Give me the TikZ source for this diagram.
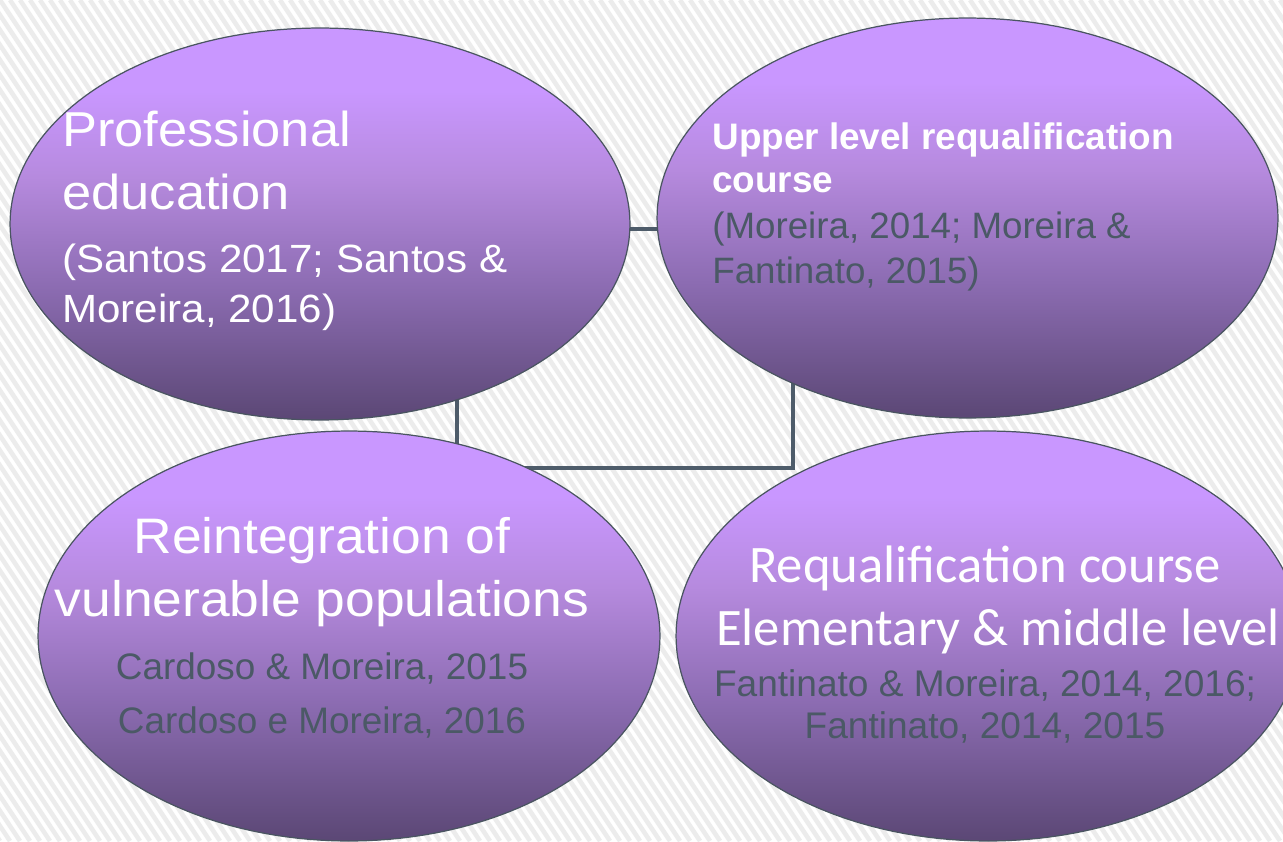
\documentclass[tikz,border=0pt]{standalone}
\usepackage{fontspec}
\setmainfont{Liberation Sans}
\newfontfamily\widesans[FakeStretch=1.07]{Liberation Sans}
\newfontfamily\calibri{Carlito}
\usetikzlibrary{shapes.geometric,calc,backgrounds}

\definecolor{lilaclight}{HTML}{C997FF}
\definecolor{lilacup}{HTML}{B68ADE}
\definecolor{lilacmid}{HTML}{8C6CB2}
\definecolor{lilacdark}{HTML}{5B4775}
\definecolor{rimgray}{HTML}{4A5561}
\definecolor{slate}{HTML}{4E5C6A}
\definecolor{citegray}{HTML}{4B5966}
\definecolor{stripegray}{HTML}{ECECEC}

\pgfdeclareverticalshading{lilac}{100bp}{color(0bp)=(lilacdark); color(25bp)=(lilacdark);
  color(42bp)=(lilacmid); color(56bp)=(lilacup); color(67bp)=(lilaclight);
  color(75bp)=(lilaclight); color(100bp)=(lilaclight)}

\newcommand{\fs}[1]{\fontsize{#1}{1.2\dimexpr#1\relax}\selectfont}

\tikzset{
  topic/.style={ellipse, draw=rimgray, line width=0.7pt, shading=lilac, inner sep=0pt},
  link/.style={draw=slate, line width=2.3pt},
  head/.style={text=white, inner sep=0pt},
  cite/.style={text=citegray, inner sep=0pt},
}

\begin{document}
\begin{tikzpicture}[x=0.02cm, y=-0.02cm]
  \useasboundingbox (0,0) rectangle (1283,841);

  % the four topics
  \node[topic, minimum width=12.4cm, minimum height=7.84cm] (prof) at (320,224) {};
  \node[topic, minimum width=12.42cm, minimum height=8cm] (upper) at (967.5,218) {};
  \node[topic, minimum width=12.44cm, minimum height=8.2cm] (reint) at (349,636) {};
  \node[topic, minimum width=12.48cm, minimum height=8.2cm] (requal) at (988,636) {};

  % professional education
  \node[head, anchor=base west, font=\widesans\fs{27.9pt}] (prof1) at (62,147) {Professional};
  \node[head, anchor=base west, font=\widesans\fs{27.9pt}] (prof2) at (62,210) {education};
  \node[head, anchor=base west, font=\widesans\fs{22.4pt}] (prof3) at (62,272) {(Santos 2017; Santos \&};
  \node[head, anchor=base west, font=\widesans\fs{22.4pt}] (prof4) at (62,322) {Moreira, 2016)};

  % upper level course
  \node[head, anchor=base west, font=\bfseries\fs{21pt}] (upper1) at (712,150) {Upper level requalification};
  \node[head, anchor=base west, font=\bfseries\fs{21pt}] (upper2) at (712,193) {course};
  \node[cite, anchor=base west, font=\fs{20.9pt}] (upper3) at (712,238) {(Moreira, 2014; Moreira \&};
  \node[cite, anchor=base west, font=\fs{20.9pt}] (upper4) at (712,283) {Fantinato, 2015)};

  % reintegration
  \node[head, anchor=base, font=\widesans\fs{28.4pt}] (reint1) at (322,553) {Reintegration of};
  \node[head, anchor=base, font=\widesans\fs{28.4pt}] (reint2) at (322,616) {vulnerable populations};
  \node[cite, anchor=base, font=\fs{21pt}] (reint3) at (322,679) {Cardoso \& Moreira, 2015};
  \node[cite, anchor=base, font=\fs{21pt}] (reint4) at (322,733) {Cardoso e Moreira, 2016};

  % elementary and middle level course
  \node[head, anchor=base, font=\calibri\fs{30pt}] (requal1) at (985,582) {Requalification course};
  \node[head, anchor=base, font=\calibri\fs{30pt}] (requal2) at (998,645) {Elementary \& middle level};
  \node[cite, anchor=base, font=\fs{21.1pt}] (requal3) at (985,696) {Fantinato \& Moreira, 2014, 2016;};
  \node[cite, anchor=base, font=\fs{21.1pt}] (requal4) at (985,738) {Fantinato, 2014, 2015};

  \begin{scope}[on background layer]
    % striped paper
    \fill[white] (0,0) rectangle (1283,841);
    \begin{scope}
      \clip (0,0) rectangle (1283,841);
      \foreach \s in {-600,-590,...,1290}
        \draw[stripegray, line width=2.6pt] (\s,0) -- ++(560,841);
    \end{scope}
    % links, hidden under the ellipses
    \draw[link] ($(prof.center)+(0,5)$) -- ($(prof.center -| upper.center)+(0,5)$);
    \draw[link] ($(prof.center)+(137,0)$) -- ($(reint.center)+(108,0)$);
    \draw[link] ($(upper.center)+(-174.5,0)$) |- ($(reint.center)+(0,-168)$);
  \end{scope}
\end{tikzpicture}
\end{document}
